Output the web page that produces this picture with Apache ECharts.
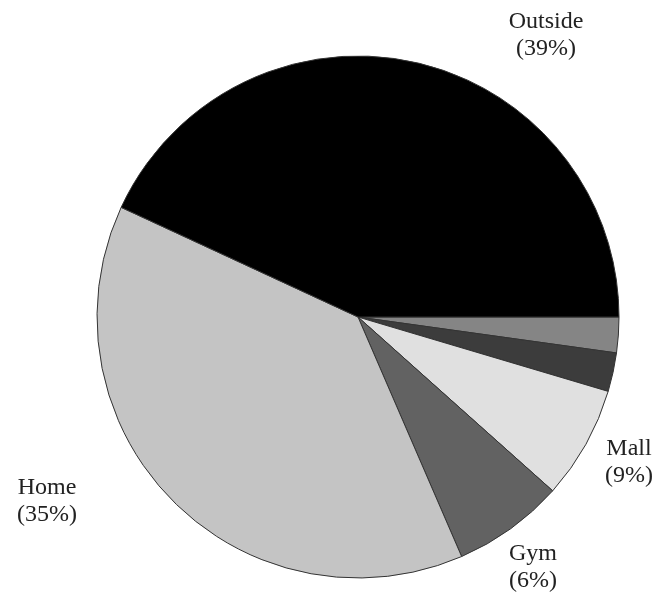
<!DOCTYPE html>
<html>
<head>
<meta charset="utf-8">
<script src="https://cdn.jsdelivr.net/npm/echarts@6/dist/echarts.min.js"></script>
<style>html,body{margin:0;padding:0;background:#fff;}#c{width:668px;height:597px;}</style>
</head>
<body>
<div id="c"></div>
<script>
// Slices in clockwise order starting at 3 o'clock
const categories = ['Other A', 'Other B', 'Mall', 'Gym', 'Home', 'Outside'];
const values = [2.2, 2.4, 7.0, 6.9, 38.4, 43.1];
const labelTexts = ['', '', 'Mall\n(9%)', 'Gym\n(6%)', 'Home\n(35%)', 'Outside\n(39%)'];
const colors = ['#858585', '#3c3c3c', '#e0e0e0', '#626262', '#c4c4c4', '#000000'];

// label anchor positions (layout only)
const labelPos = [null, null, [629, 462], [533, 567], [47, 501], [546, 35]];

const chart = echarts.init(document.getElementById('c'));
chart.setOption({
  animation: false,
  series: [{
    type: 'pie',
    center: [358, 317],
    radius: 261,
    startAngle: 0,
    clockwise: true,
    itemStyle: { borderColor: '#333', borderWidth: 1 },
    labelLine: { show: false },
    label: {
      show: true,
      position: 'outside',
      fontFamily: 'Liberation Serif',
      fontSize: 24,
      lineHeight: 27,
      color: '#222',
      align: 'center',
      overflow: 'none',
      formatter: p => labelTexts[p.dataIndex]
    },
    labelLayout: p => {
      const pos = labelPos[p.dataIndex];
      if (!pos) return {};
      return { x: pos[0], y: pos[1], align: 'center', verticalAlign: 'middle', hideOverlap: false };
    },
    data: categories.map((c, i) => ({
      name: c,
      value: values[i],
      itemStyle: { color: colors[i] },
      label: { show: !!labelTexts[i] }
    }))
  }]
});
</script>
</body>
</html>
